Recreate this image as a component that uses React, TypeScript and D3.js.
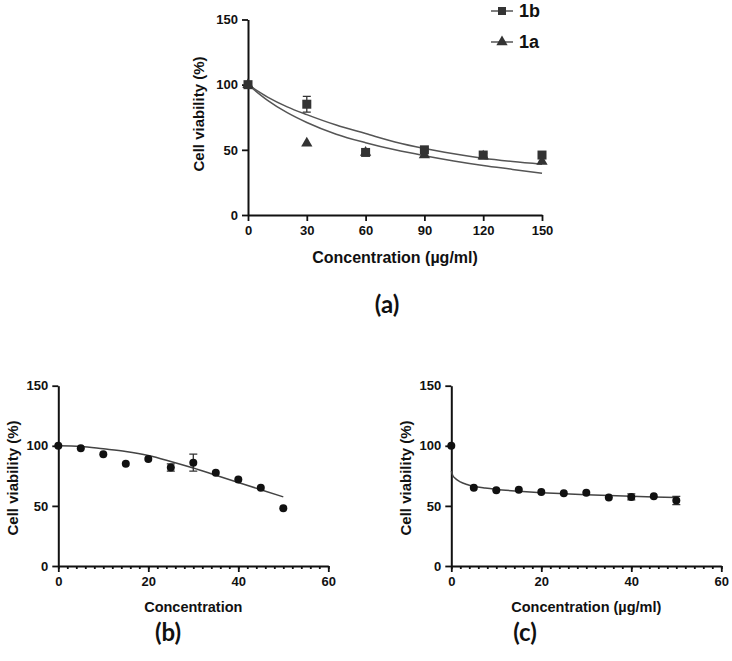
import React, { useRef, useEffect } from "react";
import * as d3 from "d3";

// panel (a): compounds 1a / 1b
const concA = [0, 30, 60, 90, 120, 150];
const via1b = [100, 85, 48, 50, 46, 46];
const err1b = [0, 6, 1, 1, 1.5, 1.5];
const via1a = [100, 55, 48, 46, 45, 41];
const fitXA = [0, 10, 20, 30, 45, 60, 75, 90, 105, 120, 135, 150];
const fit1b = [100, 90.5, 83, 77, 69, 62.5, 56, 51, 47, 43.5, 41, 39];
const fit1a = [100, 88, 78.5, 71, 62, 55.5, 50, 45.5, 41.5, 38, 35, 32];

// panels (b) and (c)
const concBC = [0, 5, 10, 15, 20, 25, 30, 35, 40, 45, 50];
const viaB = [100, 98, 93, 85, 89, 82, 86, 77.5, 72, 65, 48];
const errB = [0, 0, 0, 0, 0, 3, 7, 0, 0, 0, 0];
const fitXB = [0, 5, 10, 15, 20, 25, 30, 35, 40, 45, 50];
const fitB = [100, 99.5, 97.5, 95.3, 92, 87, 81.5, 75.5, 69.5, 63.5, 57.5];
const viaC = [100, 65, 63, 63.5, 61.5, 60.5, 61, 57, 57.5, 58, 54.5];
const errC = [0, 0, 0, 0, 0, 0, 0, 0, 2.5, 0, 3.5];
const fitXC = [0, 0.3, 1, 2, 3.5, 5, 7.5, 10, 15, 20, 25, 30, 35, 40, 45, 50];
const fitC = [79, 75.5, 72.5, 70, 67.8, 66.3, 64.8, 63.7, 62.2, 61, 60.1, 59.3, 58.6, 58, 57.4, 56.9];

const yTicks = [0, 50, 100, 150];
const FONT = "Liberation Sans";

function drawAxes(g, x, y, xTicks, minor, fs) {
  const xa = g.append("g")
    .attr("transform", `translate(0,${y.range()[0]})`)
    .call(d3.axisBottom(x).tickValues(xTicks).tickSize(6).tickSizeOuter(0).tickPadding(5));
  if (minor) {
    g.append("g")
      .attr("transform", `translate(0,${y.range()[0]})`)
      .call(d3.axisBottom(x).tickValues(d3.range(x.domain()[0], x.domain()[1] + 1, 2)).tickSize(3).tickSizeOuter(0).tickFormat(""))
      .select(".domain").remove();
  }
  const ya = g.append("g")
    .attr("transform", `translate(${x.range()[0]},0)`)
    .call(d3.axisLeft(y).tickValues(yTicks).tickSize(6).tickSizeOuter(0).tickPadding(4));
  g.selectAll(".domain").attr("stroke", "#111").attr("stroke-width", 2);
  g.selectAll(".tick line").attr("stroke", "#111").attr("stroke-width", 1.8);
  [xa, ya].forEach(a => a.selectAll("text")
    .attr("font-family", FONT).attr("font-weight", "bold")
    .attr("font-size", fs).attr("fill", "#111"));
}

function errBars(g, x, y, xs, ys, es, color) {
  xs.forEach((c, i) => {
    if (!es[i]) return;
    const cx = x(c);
    g.append("path")
      .attr("d", `M${cx - 4},${y(ys[i] + es[i])}H${cx + 4}M${cx},${y(ys[i] + es[i])}V${y(ys[i] - es[i])}M${cx - 4},${y(ys[i] - es[i])}H${cx + 4}`)
      .attr("stroke", color).attr("stroke-width", 1.3).attr("fill", "none");
  });
}

function label(svg, text, cx, cy, fs, rot) {
  svg.append("text")
    .attr("transform", `translate(${cx},${cy})` + (rot ? " rotate(-90)" : ""))
    .attr("text-anchor", "middle").attr("dominant-baseline", "central")
    .attr("font-family", FONT).attr("font-weight", "bold")
    .attr("font-size", fs).attr("fill", "#111").text(text);
}

export default function App() {
  const svgRef = useRef(null);
  useEffect(() => {
    const svg = d3.select(svgRef.current);
    svg.selectAll("*").remove();
    const mark = "#333";
    const curve = "#555";

    // ---- (a)
    const xA = d3.scaleLinear().domain([0, 150]).range([248, 542]);
    const yA = d3.scaleLinear().domain([0, 150]).range([215, 19.5]);
    const gA = svg.append("g");
    drawAxes(gA, xA, yA, concA, false, 13);
    const lineA = d3.line().x(d => xA(d[0])).y(d => yA(d[1])).curve(d3.curveMonotoneX);
    gA.append("path").attr("d", lineA(fitXA.map((c, i) => [c, fit1b[i]])))
      .attr("fill", "none").attr("stroke", curve).attr("stroke-width", 1.5);
    gA.append("path").attr("d", lineA(fitXA.map((c, i) => [c, fit1a[i]])))
      .attr("fill", "none").attr("stroke", curve).attr("stroke-width", 1.5);
    const tri = d3.symbol().type(d3.symbolTriangle).size(55);
    gA.selectAll(".tri").data(concA).join("path")
      .attr("transform", (c, i) => `translate(${xA(c)},${yA(via1a[i])})`)
      .attr("d", tri).attr("fill", mark);
    errBars(gA, xA, yA, concA, via1b, err1b, mark);
    gA.selectAll(".sq").data(concA).join("rect")
      .attr("x", c => xA(c) - 4.5).attr("y", (c, i) => yA(via1b[i]) - 4.5)
      .attr("width", 9).attr("height", 9).attr("fill", mark);
    // legend
    const leg = [["1b", "sq", 11], ["1a", "tri", 42]];
    leg.forEach(([name, kind, ly]) => {
      gA.append("line").attr("x1", 491).attr("x2", 513).attr("y1", ly).attr("y2", ly)
        .attr("stroke", "#555").attr("stroke-width", 1.5);
      if (kind === "sq") gA.append("rect").attr("x", 498).attr("y", ly - 4).attr("width", 8).attr("height", 8).attr("fill", mark);
      else gA.append("path").attr("transform", `translate(502,${ly})`).attr("d", tri).attr("fill", mark);
      gA.append("text").attr("x", 519).attr("y", ly).attr("dominant-baseline", "central")
        .attr("font-family", FONT).attr("font-weight", "bold").attr("font-size", 18)
        .attr("fill", "#111").text(name);
    });
    label(svg, "Cell viability (%)", 198, 114, 15, true);
    label(svg, "Concentration (µg/ml)", 395, 257, 16, false);

    // ---- (b) and (c)
    const yBC = d3.scaleLinear().domain([0, 150]).range([566, 385.7]);
    const panels = [
      { x0: 58.3, via: viaB, err: errB, fx: fitXB, fy: fitB, title: "Concentration", yl: 12 },
      { x0: 451.3, via: viaC, err: errC, fx: fitXC, fy: fitC, title: "Concentration (µg/ml)", yl: 405 }
    ];
    panels.forEach(p => {
      const x = d3.scaleLinear().domain([0, 60]).range([p.x0, p.x0 + 270]);
      const g = svg.append("g");
      drawAxes(g, x, yBC, [0, 20, 40, 60], true, 13);
      const ln = d3.line().x(d => x(d[0])).y(d => yBC(d[1])).curve(d3.curveMonotoneX);
      g.append("path").attr("d", ln(p.fx.map((c, i) => [c, p.fy[i]])))
        .attr("fill", "none").attr("stroke", "#444").attr("stroke-width", 1.5);
      errBars(g, x, yBC, concBC, p.via, p.err, mark);
      g.selectAll(".dot").data(concBC).join("circle")
        .attr("cx", c => x(c)).attr("cy", (c, i) => yBC(p.via[i]))
        .attr("r", 4).attr("fill", "#111");
      label(svg, "Cell viability (%)", p.yl, 478, 15, true);
      label(svg, p.title, p.x0 + 135, 607, 14.5, false);
    });

    // panel letters
    [["(a)", 387, 303], ["(b)", 168, 631], ["(c)", 525, 631]].forEach(([t, cx, cy]) => {
      svg.append("text").attr("x", cx).attr("y", cy).attr("text-anchor", "middle")
        .attr("dominant-baseline", "central").attr("font-family", "Lato, 'Open Sans', sans-serif")
        .attr("font-weight", "bold").attr("font-size", 24).attr("fill", "#111").text(t);
    });
  }, []);

  return (
    <svg ref={svgRef} width={732} height={661}
      style={{ position: "absolute", left: 0, top: 0, background: "#fff" }} />
  );
}
